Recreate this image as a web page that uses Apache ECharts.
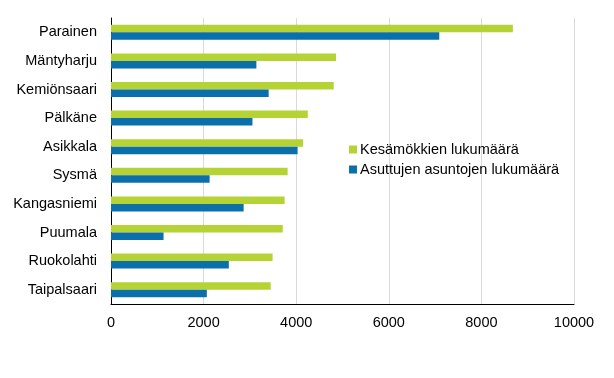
<!DOCTYPE html>
<html>
<head>
<meta charset="utf-8">
<script src="https://cdn.jsdelivr.net/npm/echarts@6/dist/echarts.min.js"></script>
<style>
  html, body { margin: 0; padding: 0; background: #fff; }
  #chart { width: 614px; height: 378px; }
</style>
</head>
<body>
<div id="chart"></div>
<script>
// kunnat ylhäältä alas
var categories = ["Parainen", "Mäntyharju", "Kemiönsaari", "Pälkäne", "Asikkala",
  "Sysmä", "Kangasniemi", "Puumala", "Ruokolahti", "Taipalsaari"];
var seriesNames = ["Kesämökkien lukumäärä", "Asuttujen asuntojen lukumäärä"];
var cottages = [8680, 4860, 4810, 4250, 4150, 3815, 3750, 3710, 3490, 3450];
var dwellings = [7090, 3140, 3405, 3055, 4030, 2130, 2865, 1135, 2545, 2070];
var xTicks = [0, 2000, 4000, 6000, 8000, 10000];

var chart = echarts.init(document.getElementById("chart"));
var font = "Liberation Sans, Arial, sans-serif";

chart.setOption({
  animation: false,
  textStyle: { fontFamily: font },
  grid: { left: 111, right: 40, top: 18, bottom: 74, containLabel: false },
  legend: {
    orient: "vertical",
    left: 344,
    top: 137,
    itemWidth: 8,
    itemHeight: 8,
    itemGap: 5,
    icon: "rect",
    textStyle: { fontSize: 14.5, color: "#000", fontFamily: font, padding: [0, 0, 0, -2] },
    data: seriesNames
  },
  xAxis: {
    type: "value",
    min: xTicks[0],
    max: xTicks[xTicks.length - 1],
    interval: 2000,
    axisLine: { show: true, lineStyle: { color: "#000", width: 1 } },
    axisTick: { show: false },
    axisLabel: {
      color: "#000", fontSize: 14.5, margin: 11, fontFamily: font,
      formatter: function (v) { return String(v); }
    },
    splitLine: { lineStyle: { color: "#d9d9d9", width: 1 } }
  },
  yAxis: {
    type: "category",
    inverse: true,
    data: categories,
    axisLine: { show: true, lineStyle: { color: "#000", width: 1 } },
    axisTick: { show: false },
    axisLabel: { color: "#000", fontSize: 14.5, margin: 14, fontFamily: font }
  },
  series: [
    {
      name: seriesNames[0],
      type: "bar",
      data: cottages,
      barWidth: 7.5,
      barGap: "0%",
      itemStyle: { color: "#b5d334" }
    },
    {
      name: seriesNames[1],
      type: "bar",
      data: dwellings,
      barWidth: 7.5,
      barGap: "0%",
      itemStyle: { color: "#0b6fab" }
    }
  ]
});
</script>
</body>
</html>
